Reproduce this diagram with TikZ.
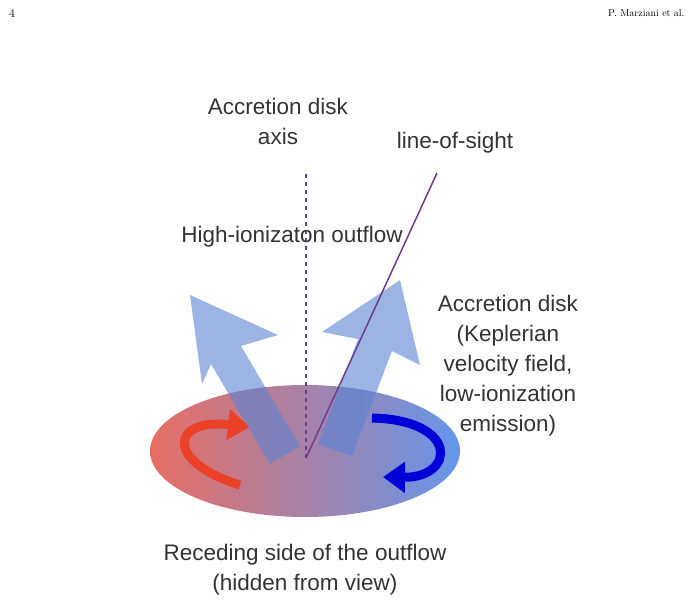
\documentclass[tikz,border=0pt]{standalone}
\usepackage{fontspec}
\setmainfont{Liberation Sans}
\newfontfamily\serifpage{Latin Modern Roman}
\usetikzlibrary{arrows.meta}
\definecolor{diskred}{RGB}{232,110,100}
\definecolor{diskblue}{RGB}{100,150,235}
\definecolor{flowblue}{RGB}{90,130,210}
\definecolor{axispurple}{RGB}{110,60,140}
\definecolor{spinred}{RGB}{235,65,40}
\tikzset{
  lbl/.style={align=center, font=\fontsize{22.5}{30}\selectfont, text=black!80},
  flow/.style={fill=flowblue, fill opacity=0.6, draw=none},
}
\begin{document}
\begin{tikzpicture}[x=1pt,y=-1pt]
\useasboundingbox (0,0) rectangle (694,605);

\node[font=\serifpage\fontsize{12}{14}\selectfont] (pagenum) at (12,13) {4};
\node[font=\serifpage\fontsize{10}{12}\selectfont, anchor=east] (authors) at (688,13) {P. Marziani et al.};

% disk
\shade[left color=diskred, right color=diskblue] (305,451) ellipse (155 and 66);

% rotation arrows
\draw[spinred, line width=9pt, -{Triangle[length=22pt,width=30pt]}]
  (240,485) .. controls (165,462) and (170,418) .. (250,427);
\draw[blue!85!black, line width=9pt, -{Triangle[length=22pt,width=30pt]}]
  (372,418) .. controls (460,420) and (455,478) .. (383,477);

% outflow
\fill[flow] (190,295) -- (278,335) -- (241,346) -- (300,446) -- (270,464)
  -- (211,364) -- (202,384) -- cycle;
\fill[flow] (400,280) -- (420,365) -- (392,351) -- (352,456) -- (318,444)
  -- (358,339) -- (322,332) -- cycle;

% axis and line of sight
\coordinate (center) at (306,458);
\coordinate (axistop) at (306,170);
\coordinate (sighttop) at (437,173);
\draw[axispurple, line width=2.2pt, dash pattern=on 4pt off 4pt] (center) -- (axistop);
\draw[axispurple, line width=1.5pt] (center) -- (sighttop);

% labels
\node[lbl] (axislbl) at (278,121) {Accretion disk\\axis};
\node[lbl] (sightlbl) at (455,143) {line-of-sight};
\node[lbl] (outflowlbl) at (292,237) {High-ionizaton outflow};
\node[lbl] (disklbl) at (508,366) {Accretion disk\\(Keplerian\\velocity field,\\low-ionization\\emission)};
\node[lbl] (recedelbl) at (305,570) {Receding side of the outflow\\(hidden from view)};
\end{tikzpicture}
\end{document}
